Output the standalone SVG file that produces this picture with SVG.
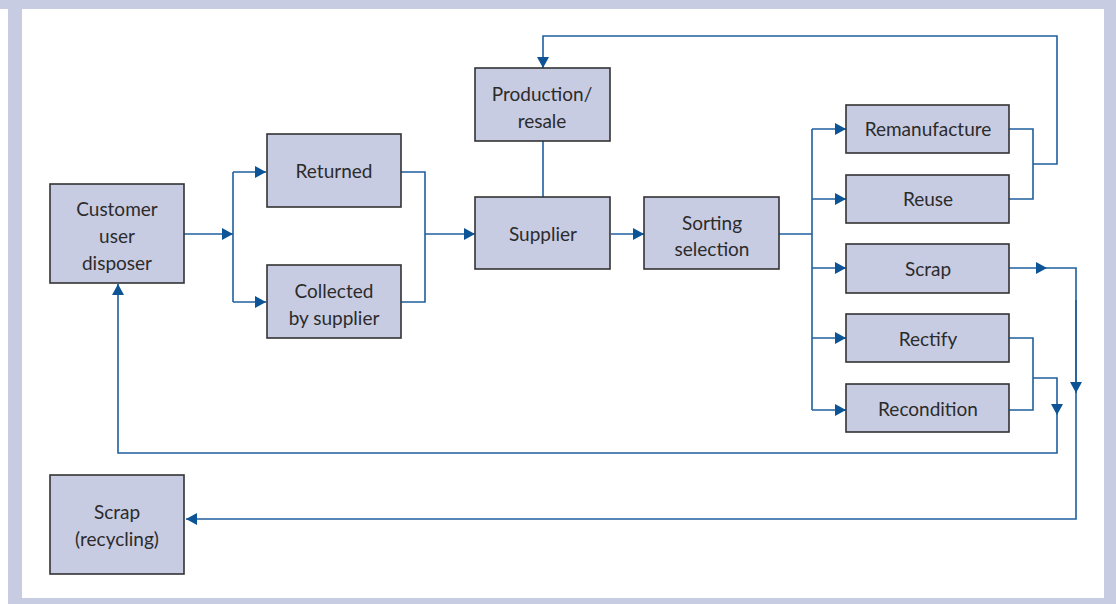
<svg xmlns="http://www.w3.org/2000/svg" width="1116" height="604" viewBox="0 0 1116 604">
  <defs>
    <style>
      .frame { fill: #c8cce3; }
      .box { fill: #c8cce3; stroke: #333333; stroke-width: 1.6; }
      .lbl { font-family: "Lato", "Liberation Sans", sans-serif; font-size: 19px; fill: #2b2b2b; text-anchor: middle; }
      .wire { fill: none; stroke: #1f5f9e; stroke-width: 1.6; }
      .head { fill: #0d5496; }
    </style>
    <marker id="arrow" markerUnits="userSpaceOnUse" markerWidth="12" markerHeight="12" refX="11" refY="6" orient="auto">
      <path d="M0,0 L11,6 L0,12 Z" class="head"/>
    </marker>
  </defs>

  <!-- page background and frame -->
  <rect x="0" y="0" width="1116" height="604" fill="#ffffff"/>
  <rect class="frame" x="0" y="0" width="1116" height="9"/>
  <rect class="frame" x="8" y="0" width="14" height="604"/>
  <rect class="frame" x="1104" y="0" width="12" height="604"/>
  <rect class="frame" x="8" y="598" width="1108" height="6"/>

  <!-- connectors -->
  <g id="connectors">
    <!-- customer to split -->
    <path class="wire" d="M184,234 H233" marker-end="url(#arrow)"/>
    <path class="wire" d="M233,172 V302"/>
    <path class="wire" d="M233,172 H266" marker-end="url(#arrow)"/>
    <path class="wire" d="M233,302 H266" marker-end="url(#arrow)"/>
    <!-- merge into supplier -->
    <path class="wire" d="M401,172 H425 V302 H401"/>
    <path class="wire" d="M425,234 H475" marker-end="url(#arrow)"/>
    <!-- production link -->
    <path class="wire" d="M543,141 V197"/>
    <!-- supplier to sorting -->
    <path class="wire" d="M611,234 H644" marker-end="url(#arrow)"/>
    <!-- sorting trunk -->
    <path class="wire" d="M779,234 H812"/>
    <path class="wire" d="M812,129 V410"/>
    <path class="wire" d="M812,129 H846" marker-end="url(#arrow)"/>
    <path class="wire" d="M812,199 H846" marker-end="url(#arrow)"/>
    <path class="wire" d="M812,268 H846" marker-end="url(#arrow)"/>
    <path class="wire" d="M812,338 H846" marker-end="url(#arrow)"/>
    <path class="wire" d="M812,410 H846" marker-end="url(#arrow)"/>
    <!-- remanufacture / reuse back to production -->
    <path class="wire" d="M1009,129 H1033 V199 H1009"/>
    <path class="wire" d="M1033,164 H1057 V36 H543 V68" marker-end="url(#arrow)"/>
    <!-- scrap to recycling -->
    <path class="wire" d="M1009,268 H1047" marker-end="url(#arrow)"/>
    <path class="wire" d="M1047,268 H1076 V519 H186" marker-end="url(#arrow)"/>
    <path class="wire" d="M1076,300 V393" marker-end="url(#arrow)"/>
    <!-- rectify / recondition back to customer -->
    <path class="wire" d="M1009,338 H1033 V410 H1009"/>
    <path class="wire" d="M1033,378 H1057 V415" marker-end="url(#arrow)"/>
    <path class="wire" d="M1057,415 V453 H118 V284" marker-end="url(#arrow)"/>
  </g>

  <g id="customer">
    <rect class="box" x="50" y="184" width="134" height="99"/>
    <text class="lbl" x="117" y="216">Customer</text>
    <text class="lbl" x="117" y="243">user</text>
    <text class="lbl" x="117" y="270">disposer</text>
  </g>
  <g id="returned">
    <rect class="box" x="267" y="134" width="134" height="73"/>
    <text class="lbl" x="334" y="178">Returned</text>
  </g>
  <g id="collected">
    <rect class="box" x="267" y="265" width="134" height="73"/>
    <text class="lbl" x="334" y="298">Collected</text>
    <text class="lbl" x="334" y="325">by supplier</text>
  </g>
  <g id="production">
    <rect class="box" x="475" y="68" width="135" height="73"/>
    <text class="lbl" x="542" y="101">Production/</text>
    <text class="lbl" x="542" y="128">resale</text>
  </g>
  <g id="supplier">
    <rect class="box" x="475" y="197" width="135" height="72"/>
    <text class="lbl" x="543" y="241">Supplier</text>
  </g>
  <g id="sorting">
    <rect class="box" x="644" y="197" width="135" height="72"/>
    <text class="lbl" x="712" y="230">Sorting</text>
    <text class="lbl" x="712" y="256">selection</text>
  </g>
  <g id="remanufacture">
    <rect class="box" x="846" y="105" width="163" height="48"/>
    <text class="lbl" x="928" y="136">Remanufacture</text>
  </g>
  <g id="reuse">
    <rect class="box" x="846" y="175" width="163" height="48"/>
    <text class="lbl" x="928" y="206">Reuse</text>
  </g>
  <g id="scrap">
    <rect class="box" x="846" y="244" width="163" height="49"/>
    <text class="lbl" x="928" y="276">Scrap</text>
  </g>
  <g id="rectify">
    <rect class="box" x="846" y="314" width="163" height="48"/>
    <text class="lbl" x="928" y="346">Rectify</text>
  </g>
  <g id="recondition">
    <rect class="box" x="846" y="384" width="163" height="48"/>
    <text class="lbl" x="928" y="416">Recondition</text>
  </g>
  <g id="scrap-recycling">
    <rect class="box" x="50" y="475" width="134" height="99"/>
    <text class="lbl" x="117" y="519">Scrap</text>
    <text class="lbl" x="117" y="546">(recycling)</text>
  </g>
</svg>
